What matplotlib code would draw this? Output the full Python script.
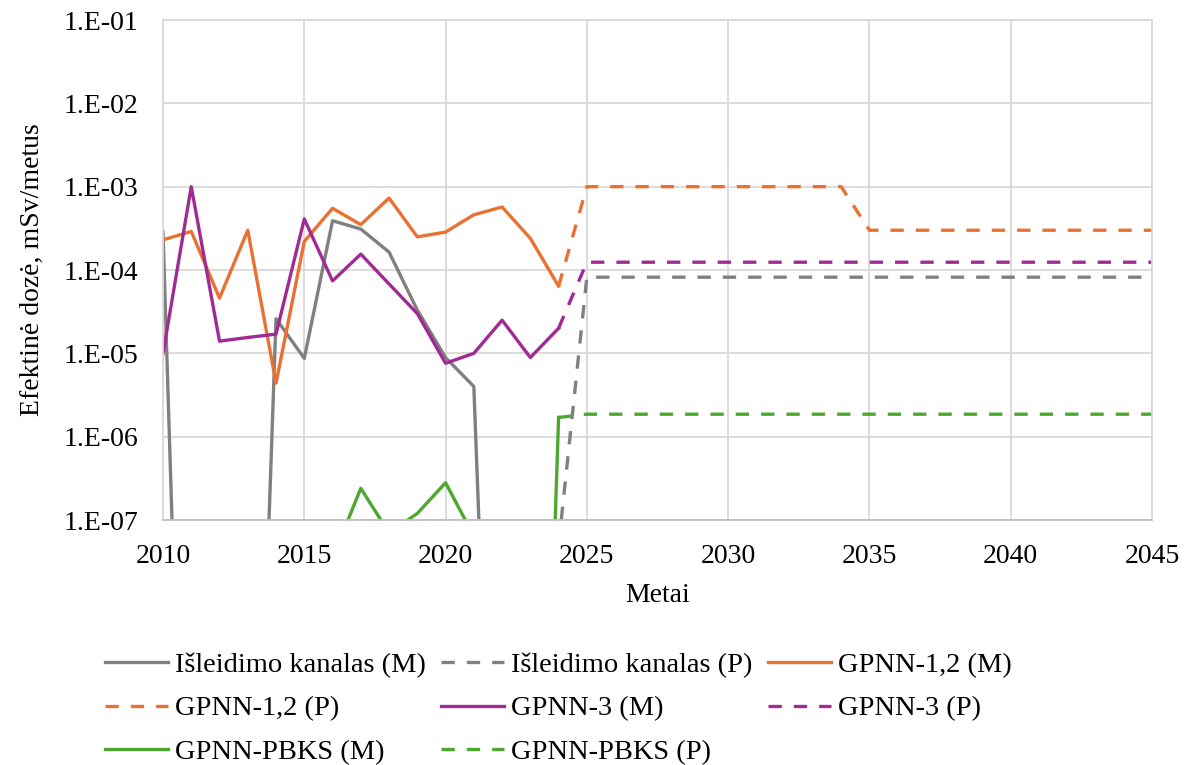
import math
import matplotlib
matplotlib.use("Agg")
import matplotlib.pyplot as plt
from matplotlib.ticker import FixedLocator, FuncFormatter, NullLocator

# ---- data ----
years_m = list(range(2010, 2025))
years_p = list(range(2024, 2046))

# Measured (M) series, 2010-2024 (tiny values fall far below the axis)
isleidimo_m = [2.85e-4, 4e-15, 4e-15, 5e-15, 2.6e-5, 8.7e-6, 3.9e-4, 3.1e-4,
               1.64e-4, 3.3e-5, 8.9e-6, 4.0e-6, 4e-15, 4e-15, 4e-15]
gpnn12_m = [2.3e-4, 2.9e-4, 4.6e-5, 3.0e-4, 4.4e-6, 2.2e-4, 5.5e-4, 3.5e-4,
            7.3e-4, 2.5e-4, 2.85e-4, 4.6e-4, 5.7e-4, 2.4e-4, 6.4e-5]
gpnn3_m = [1.0e-5, 1.0e-3, 1.4e-5, 1.55e-5, 1.7e-5, 4.1e-4, 7.4e-5, 1.55e-4,
           6.8e-5, 3.0e-5, 7.6e-6, 1.0e-5, 2.5e-5, 8.9e-6, 2.0e-5]
pbks_m = [1e-15, 1e-15, 1e-15, 1e-15, 1e-15, 1e-15, 3.5e-8, 2.4e-7,
          7.0e-8, 1.2e-7, 2.8e-7, 6.4e-8, 5e-8, 1e-16, 1.7e-6]

# Forecast (P) series, 2024-2045
isleidimo_p = [5e-8] + [8.2e-5] * 21
gpnn12_p = [6.4e-5] + [1.0e-3] * 10 + [3.0e-4] * 11
gpnn3_p = [2.0e-5] + [1.24e-4] * 21
pbks_p = [1.7e-6] + [1.86e-6] * 21

labels = {
    "isl_m": "Išleidimo kanalas (M)", "isl_p": "Išleidimo kanalas (P)",
    "g12_m": "GPNN-1,2 (M)", "g12_p": "GPNN-1,2 (P)",
    "g3_m": "GPNN-3 (M)", "g3_p": "GPNN-3 (P)",
    "pb_m": "GPNN-PBKS (M)", "pb_p": "GPNN-PBKS (P)",
}
x_ticks = [2010, 2015, 2020, 2025, 2030, 2035, 2040, 2045]
y_ticks = [1e-7, 1e-6, 1e-5, 1e-4, 1e-3, 1e-2, 1e-1]

# ---- style ----
plt.rcParams['font.family'] = ['Liberation Serif', 'DejaVu Serif']
GRAY = "#808080"
ORANGE = "#E97132"
PURPLE = "#A02B93"
GREEN = "#4EA72E"
LW = 2.4
DASH = (0, (4.0, 3.6))
FS = 20

fig = plt.figure(figsize=(11.84, 7.65), dpi=100)
ax = fig.add_axes([163 / 1184, 1 - 520 / 765, (1152 - 163) / 1184, 500 / 765])

h = {}
h["isl_m"], = ax.plot(years_m, isleidimo_m, color=GRAY, lw=LW, label=labels["isl_m"])
h["g12_m"], = ax.plot(years_m, gpnn12_m, color=ORANGE, lw=LW, label=labels["g12_m"])
h["g3_m"], = ax.plot(years_m, gpnn3_m, color=PURPLE, lw=LW, label=labels["g3_m"])
h["pb_m"], = ax.plot(years_m, pbks_m, color=GREEN, lw=LW, label=labels["pb_m"])
h["isl_p"], = ax.plot(years_p, isleidimo_p, color=GRAY, lw=LW, ls=DASH, label=labels["isl_p"])
h["g12_p"], = ax.plot(years_p, gpnn12_p, color=ORANGE, lw=LW, ls=DASH, label=labels["g12_p"])
h["g3_p"], = ax.plot(years_p, gpnn3_p, color=PURPLE, lw=LW, ls=DASH, label=labels["g3_p"])
h["pb_p"], = ax.plot(years_p, pbks_p, color=GREEN, lw=LW, ls=DASH, label=labels["pb_p"])

ax.set_yscale("log")
ax.set_ylim(1e-7, 1e-1)
ax.set_xlim(2010, 2045)
ax.xaxis.set_major_locator(FixedLocator(x_ticks))
ax.yaxis.set_major_locator(FixedLocator(y_ticks))
ax.yaxis.set_minor_locator(NullLocator())
ax.yaxis.set_major_formatter(FuncFormatter(lambda v, p: "1.E-%02d" % round(-math.log10(v))))
ax.grid(True, color="#D9D9D9", lw=1.3)
ax.set_axisbelow(True)
for s in ax.spines.values():
    s.set_color("#D9D9D9")
    s.set_linewidth(1.3)
ax.spines["bottom"].set_color("#BFBFBF")
ax.tick_params(length=0, labelsize=FS)
ax.tick_params(axis="x", pad=17)
ax.tick_params(axis="y", pad=17.5)
ax.set_xlabel("Metai", fontsize=FS, labelpad=10)
ax.set_ylabel("Efektinė dozė, mSv/metus", fontsize=FS, labelpad=14)

order = ["isl_m", "g12_p", "pb_m", "isl_p", "g3_m", "pb_p", "g12_m", "g3_p"]
fig.legend([h[k] for k in order], [labels[k] for k in order], ncol=3,
           loc="upper left", bbox_to_anchor=(105 / 1184, 1 - 652 / 765),
           frameon=False, fontsize=20.5, handlelength=2.2, handletextpad=0.25,
           columnspacing=0.55, labelspacing=0.62, borderaxespad=0, borderpad=0)

fig.savefig("out.png", dpi=100)
